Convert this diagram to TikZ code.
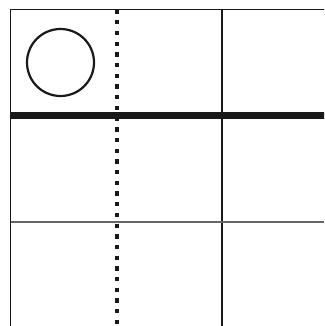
\documentclass[tikz,border=0pt]{standalone}
\usepackage{tikz}

\begin{document}
\begin{tikzpicture}[x=1pt,y=-1pt]
  \useasboundingbox (0,0) rectangle (324,326);
  \clip (0,0) rectangle (324,326);
  % thin grid lines
  \draw[line width=1.6pt,black!90] (10.5,330) -- (10.5,9.5) -- (330,9.5);
  \draw[line width=1.6pt,black!90] (222,9.5) -- (222,330);
  \draw[line width=1.8pt,black!60] (10.5,222) -- (330,222);
  % thick wall
  \draw[line width=6.5pt,black!90] (10.5,115.7) -- (330,115.7);
  % dotted wall
  \draw[line width=4.3pt,black!90,dash pattern=on 4.3pt off 6.4pt]
    (116.7,9.5) -- (116.7,330);
  % ball
  \draw[line width=2.2pt,black!90] (60.5,62.5) circle (33.5);
\end{tikzpicture}
\end{document}
